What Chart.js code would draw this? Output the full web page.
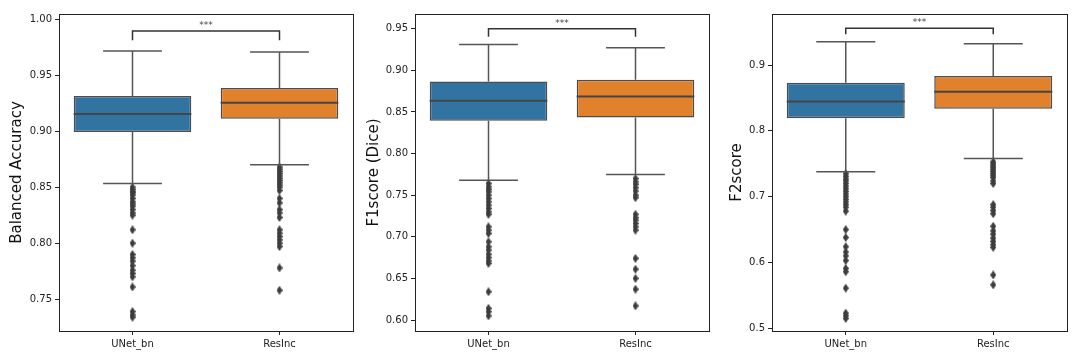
<!DOCTYPE html>
<html>
<head>
<meta charset="utf-8">
<script src="https://cdn.jsdelivr.net/npm/chart.js@4.4.0/dist/chart.umd.min.js"></script>
<style>
    body { margin: 0; background: #fff; }
    .panel { position: absolute; top: 0; width: 360px; height: 360px; }
</style>
</head>
<body>
<div class="panel" style="left:0"><canvas id="baChart" width="360" height="360"></canvas></div>
<div class="panel" style="left:360px"><canvas id="f1Chart" width="360" height="360"></canvas></div>
<div class="panel" style="left:720px"><canvas id="f2Chart" width="360" height="360"></canvas></div>
<script>
// Data
const categories = ['UNet_bn', 'ResInc'];
const boxColors = ['#3274a1', '#e1812c'];

// Balanced Accuracy
const baQ1 = [0.8993, 0.9111];
const baMedian = [0.9153, 0.9254];
const baQ3 = [0.9314, 0.9385];
const baLow = [0.8532, 0.8701];
const baHigh = [0.9715, 0.9706];
const baOutUNet = [0.850, 0.848, 0.846, 0.845, 0.843, 0.840, 0.837, 0.835, 0.833, 0.830, 0.827, 0.825,
    0.812, 0.800, 0.790, 0.787, 0.784, 0.780, 0.776, 0.773, 0.770, 0.761, 0.739, 0.736, 0.734];
const baOutResInc = [0.868, 0.866, 0.864, 0.862, 0.860, 0.858, 0.856, 0.854, 0.852, 0.850, 0.847,
    0.840, 0.836, 0.830, 0.827, 0.823, 0.812, 0.809, 0.806, 0.803, 0.800, 0.797, 0.778, 0.758];
const baSig = [0.981, 0.9893];
const baTicks = [0.75, 0.80, 0.85, 0.90, 0.95, 1.00];
const baRange = [0.7217, 1.0045];

// F1score (Dice)
const f1Q1 = [0.8395, 0.8433];
const f1Median = [0.8635, 0.8686];
const f1Q3 = [0.8866, 0.8887];
const f1Low = [0.7678, 0.7748];
const f1High = [0.9311, 0.9271];
const f1OutUNet = [0.764, 0.760, 0.757, 0.754, 0.750, 0.746, 0.742, 0.738, 0.734, 0.730, 0.727,
    0.712, 0.708, 0.704, 0.694, 0.688, 0.684, 0.679, 0.675, 0.671, 0.668, 0.634, 0.614, 0.610, 0.605];
const f1OutResInc = [0.770, 0.766, 0.763, 0.759, 0.755, 0.750, 0.747, 0.727, 0.723, 0.720, 0.716,
    0.712, 0.708, 0.674, 0.661, 0.650, 0.637, 0.617];
const f1Sig = [0.9404, 0.95];
const f1Ticks = [0.60, 0.65, 0.70, 0.75, 0.80, 0.85, 0.90, 0.95];
const f1Range = [0.5868, 0.9677];

// F2score
const f2Q1 = [0.8193, 0.8336];
const f2Median = [0.8446, 0.8594];
const f2Q3 = [0.873, 0.8833];
const f2Low = [0.7377, 0.758];
const f2High = [0.9354, 0.9324];
const f2OutUNet = [0.735, 0.731, 0.727, 0.724, 0.720, 0.716, 0.712, 0.708, 0.704, 0.700, 0.696, 0.692,
    0.688, 0.684, 0.678, 0.650, 0.638, 0.624, 0.616, 0.610, 0.603, 0.591, 0.586, 0.561, 0.523, 0.519, 0.515];
const f2OutResInc = [0.753, 0.750, 0.747, 0.744, 0.741, 0.738, 0.735, 0.732, 0.729, 0.724, 0.720,
    0.688, 0.684, 0.679, 0.674, 0.655, 0.648, 0.643, 0.637, 0.632, 0.627, 0.623, 0.581, 0.566];
const f2Sig = [0.9467, 0.9558];
const f2Ticks = [0.5, 0.6, 0.7, 0.8, 0.9];
const f2Range = [0.4959, 0.9776];

const FONT = "'DejaVu Sans', sans-serif";
const LINE = '#555555';

// thin diamond marker for the fliers
const diamond = document.createElement('canvas');
diamond.width = 6;
diamond.height = 9;
(() => {
    const c = diamond.getContext('2d');
    c.fillStyle = '#3d3d3d';
    c.beginPath();
    c.moveTo(3, 0);
    c.lineTo(6, 4.5);
    c.lineTo(3, 9);
    c.lineTo(0, 4.5);
    c.closePath();
    c.fill();
})();

// whiskers, medians, significance bracket and the frame
const boxExtras = {
    id: 'boxExtras',
    afterDatasetsDraw(chart, args, opts) {
        const { ctx } = chart;
        const x = chart.scales.x;
        const y = chart.scales.y;
        const meta = chart.getDatasetMeta(0);
        ctx.save();
        meta.data.forEach((bar, i) => {
            const cx = x.getPixelForValue(i);
            const half = bar.width / 2;
            ctx.strokeStyle = LINE;
            ctx.lineWidth = 1.5;
            ctx.beginPath();
            ctx.moveTo(cx, y.getPixelForValue(opts.q3[i]));
            ctx.lineTo(cx, y.getPixelForValue(opts.high[i]));
            ctx.moveTo(cx, y.getPixelForValue(opts.q1[i]));
            ctx.lineTo(cx, y.getPixelForValue(opts.low[i]));
            ctx.moveTo(cx - half / 2, y.getPixelForValue(opts.high[i]));
            ctx.lineTo(cx + half / 2, y.getPixelForValue(opts.high[i]));
            ctx.moveTo(cx - half / 2, y.getPixelForValue(opts.low[i]));
            ctx.lineTo(cx + half / 2, y.getPixelForValue(opts.low[i]));
            ctx.stroke();
            ctx.strokeStyle = '#454545';
            ctx.lineWidth = 2;
            ctx.beginPath();
            ctx.moveTo(cx - half, y.getPixelForValue(opts.median[i]));
            ctx.lineTo(cx + half, y.getPixelForValue(opts.median[i]));
            ctx.stroke();
        });

        // significance bracket
        const x0 = x.getPixelForValue(0);
        const x1 = x.getPixelForValue(1);
        const yLow = y.getPixelForValue(opts.sig[0]);
        const yTop = y.getPixelForValue(opts.sig[1]);
        ctx.strokeStyle = '#333';
        ctx.lineWidth = 1.5;
        ctx.beginPath();
        ctx.moveTo(x0, yLow);
        ctx.lineTo(x0, yTop);
        ctx.lineTo(x1, yTop);
        ctx.lineTo(x1, yLow);
        ctx.stroke();
        ctx.fillStyle = '#444';
        ctx.font = '9px ' + FONT;
        ctx.textAlign = 'center';
        ctx.textBaseline = 'bottom';
        ctx.fillText('***', (x0 + x1) / 2, yTop - 1);

        // frame
        const a = chart.chartArea;
        ctx.strokeStyle = '#222';
        ctx.lineWidth = 1;
        ctx.strokeRect(Math.round(a.left) + 0.5, Math.round(a.top) + 0.5,
            Math.round(a.right - a.left), Math.round(a.bottom - a.top));
        ctx.restore();
    }
};

function makeBoxChart(id, cfg) {
    const ctx = document.getElementById(id);
    const outliers = [];
    cfg.outUNet.forEach(v => outliers.push({ x: categories[0], y: v }));
    cfg.outResInc.forEach(v => outliers.push({ x: categories[1], y: v }));

    return new Chart(ctx, {
        type: 'bar',
        data: {
            labels: categories,
            datasets: [{
                label: 'box',
                data: cfg.q1.map((v, i) => [v, cfg.q3[i]]),
                backgroundColor: boxColors,
                borderColor: '#4d4d4d',
                borderWidth: 1.5,
                borderSkipped: false,
                barPercentage: 0.8,
                categoryPercentage: 1.0,
                order: 2
            }, {
                type: 'scatter',
                label: 'fliers',
                data: outliers,
                pointStyle: diamond,
                pointRadius: 3,
                order: 1
            }]
        },
        options: {
            responsive: false,
            animation: false,
            events: [],
            layout: {
                padding: { left: 0, right: cfg.padRight, top: 14, bottom: 0 }
            },
            plugins: {
                legend: { display: false },
                tooltip: { enabled: false },
                boxExtras: {
                    q1: cfg.q1, q3: cfg.q3, median: cfg.median,
                    low: cfg.low, high: cfg.high, sig: cfg.sig
                }
            },
            scales: {
                x: {
                    type: 'category',
                    offset: true,
                    grid: { display: true, drawOnChartArea: false, drawTicks: true, tickLength: 4, color: '#222', offset: false },
                    border: { display: true, color: '#222' },
                    ticks: { color: '#222', font: { family: FONT, size: 10 }, padding: 3 },
                    afterFit: (scale) => { scale.height = 29; }
                },
                y: {
                    type: 'linear',
                    min: cfg.range[0],
                    max: cfg.range[1],
                    grid: { display: true, drawOnChartArea: false, drawTicks: true, tickLength: 4, color: '#222' },
                    border: { display: true, color: '#222' },
                    ticks: {
                        color: '#222',
                        font: { family: FONT, size: 10 },
                        padding: 3,
                        callback: (v) => v.toFixed(cfg.decimals)
                    },
                    afterBuildTicks: (scale) => {
                        scale.ticks = cfg.ticks.map(v => ({ value: v }));
                    },
                    title: {
                        display: true,
                        text: cfg.title,
                        color: '#111',
                        font: { family: FONT, size: 15 },
                        padding: { top: cfg.titlePad, bottom: 0 }
                    },
                    afterFit: (scale) => { scale.width = cfg.axisWidth; }
                }
            }
        },
        plugins: [boxExtras]
    });
}

makeBoxChart('baChart', {
    title: 'Balanced Accuracy',
    q1: baQ1, median: baMedian, q3: baQ3, low: baLow, high: baHigh,
    outUNet: baOutUNet, outResInc: baOutResInc, sig: baSig,
    ticks: baTicks, range: baRange, decimals: 2,
    axisWidth: 59, padRight: 7, titlePad: 8
});

makeBoxChart('f1Chart', {
    title: 'F1score (Dice)',
    q1: f1Q1, median: f1Median, q3: f1Q3, low: f1Low, high: f1High,
    outUNet: f1OutUNet, outResInc: f1OutResInc, sig: f1Sig,
    ticks: f1Ticks, range: f1Range, decimals: 2,
    axisWidth: 55, padRight: 11, titlePad: 5
});

makeBoxChart('f2Chart', {
    title: 'F2score',
    q1: f2Q1, median: f2Median, q3: f2Q3, low: f2Low, high: f2High,
    outUNet: f2OutUNet, outResInc: f2OutResInc, sig: f2Sig,
    ticks: f2Ticks, range: f2Range, decimals: 1,
    axisWidth: 52, padRight: 13, titlePad: 8
});
</script>
</body>
</html>
